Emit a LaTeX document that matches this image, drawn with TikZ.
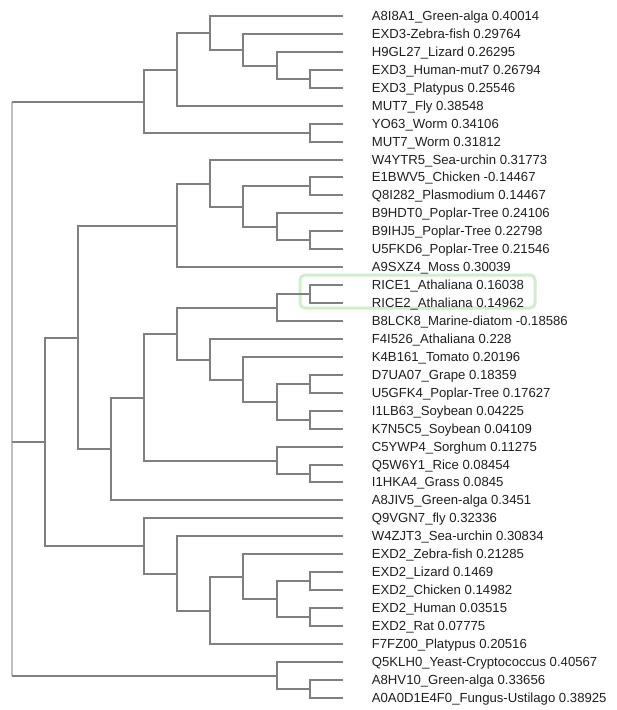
\documentclass[tikz,border=0pt]{standalone}
\usepackage{fontspec}
\setmainfont{Liberation Sans}
\usetikzlibrary{calc}

\begin{document}
\begin{tikzpicture}[
  x=1pt, y=-1pt,
  branch/.style={draw=black!50, line width=2pt},
  rootline/.style={draw=black!25, line width=2pt},
  leaf/.style={anchor=west, inner xsep=28.7pt, inner ysep=0pt, text height=9.4pt, text depth=0pt, text=black!88, font=\fontsize{13.15}{15}\selectfont},
  hilite/.style={draw={rgb,255:red,208;green,237;blue,208}, line width=3pt, rounded corners=5pt}
]
\useasboundingbox (0,0) rectangle (617,710);

\draw[hilite] (300,275) rectangle (535,308);

% leaves
\foreach \lab [count=\i] in {
  A8I8A1\_Green-alga 0.40014, EXD3-Zebra-fish 0.29764, H9GL27\_Lizard 0.26295,
  EXD3\_Human-mut7 0.26794, EXD3\_Platypus 0.25546, MUT7\_Fly 0.38548,
  YO63\_Worm 0.34106, MUT7\_Worm 0.31812, W4YTR5\_Sea-urchin 0.31773,
  E1BWV5\_Chicken -0.14467, Q8I282\_Plasmodium 0.14467, B9HDT0\_Poplar-Tree 0.24106,
  B9IHJ5\_Poplar-Tree 0.22798, U5FKD6\_Poplar-Tree 0.21546, A9SXZ4\_Moss 0.30039,
  RICE1\_Athaliana 0.16038, RICE2\_Athaliana 0.14962, B8LCK8\_Marine-diatom -0.18586,
  F4I526\_Athaliana 0.228, K4B161\_Tomato 0.20196, D7UA07\_Grape 0.18359,
  U5GFK4\_Poplar-Tree 0.17627, I1LB63\_Soybean 0.04225, K7N5C5\_Soybean 0.04109,
  C5YWP4\_Sorghum 0.11275, Q5W6Y1\_Rice 0.08454, I1HKA4\_Grass 0.0845,
  A8JIV5\_Green-alga 0.3451, Q9VGN7\_fly 0.32336, W4ZJT3\_Sea-urchin 0.30834,
  EXD2\_Zebra-fish 0.21285, EXD2\_Lizard 0.1469, EXD2\_Chicken 0.14982,
  EXD2\_Human 0.03515, EXD2\_Rat 0.07775, F7FZ00\_Platypus 0.20516,
  Q5KLH0\_Yeast-Cryptococcus 0.40567, A8HV10\_Green-alga 0.33656,
  A0A0D1E4F0\_Fungus-Ustilago 0.38925}
  \node[leaf] (l\i) at (343, {round(16+17.94*(\i-1))}) {\lab};

% clades: name/level/first child/last child
\foreach \na/\lv/\ca/\cb in {
  a9/9/l4.west/l5.west, a8/8/l3.west/a9, a7/7/l2.west/a8, a6/6/l1.west/a7,
  a5/5/a6/l6.west, w9/9/l7.west/l8.west, a4/4/a5/w9,
  p9a/9/l10.west/l11.west, p9b/9/l13.west/l14.west, p8/8/l12.west/p9b,
  p7/7/p9a/p8, p6/6/l9.west/p7, p5/5/p6/l15.west,
  r9/9/l16.west/l17.west, r8/8/r9/l18.west,
  s9a/9/l21.west/l22.west, s9b/9/l23.west/l24.west, s8/8/s9a/s9b,
  s7/7/l20.west/s8, s6/6/l19.west/s7, s5/5/r8/s6,
  g9/9/l26.west/l27.west, g8/8/l25.west/g9,
  q4/4/s5/g8, q3/3/q4/l28.west, b2/2/p5/q3,
  e9a/9/l32.west/l33.west, e9b/9/l34.west/l35.west, e8/8/e9a/e9b,
  e7/7/l31.west/e8, e6/6/e7/l36.west, e5/5/l30.west/e6, e4/4/l29.west/e5,
  b1/1/b2/e4,
  f9/9/l38.west/l39.west, f8/8/l37.west/f9}
{
  \path let \p1=(\ca), \p2=(\cb), \n1={(\y1+\y2)/2} in
    coordinate (\na) at ({round(11.7+33.1*\lv)}, {round(\n1)});
  \draw[branch] (\ca) -| (\na) |- (\cb);
}

\path let \p1=(a4), \p2=(f8), \n1={(\y1+\y2)/2} in coordinate (root) at (12, {round(\n1)});
\draw[rootline] (root |- a4) -- (root |- f8);
\foreach \ch in {a4, b1, f8}
  \draw[branch] (root |- \ch) -- (\ch);

\end{tikzpicture}
\end{document}
